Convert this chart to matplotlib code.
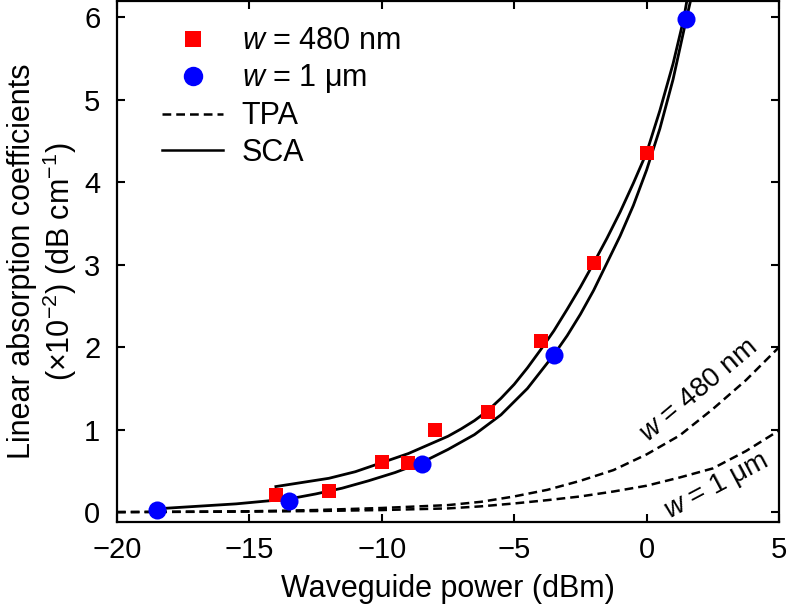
import matplotlib
matplotlib.use("Agg")
import matplotlib.pyplot as plt
from matplotlib.lines import Line2D

plt.rcParams['font.family'] = ['Liberation Sans', 'DejaVu Sans']
plt.rcParams['mathtext.fontset'] = 'custom'
plt.rcParams['mathtext.it'] = 'Liberation Sans:italic'
plt.rcParams['mathtext.rm'] = 'Liberation Sans'

# Measured data
x_480 = [-14, -12, -10, -9, -8, -6, -4, -2, 0]
y_480 = [0.21, 0.26, 0.61, 0.59, 0.99, 1.22, 2.07, 3.02, 4.36]
x_1um = [-18.5, -13.5, -8.5, -3.5, 1.5]
y_1um = [0.03, 0.13, 0.58, 1.91, 5.98]

# SCA model curves
x_sca_480 = [-14, -13, -12, -11, -10, -9, -8, -7.5, -7, -6.5, -6, -5.5, -5, -4.5, -4, -3.5, -3, -2.5, -2,
             -1.5, -1, -0.5, 0, 0.5, 1.0, 1.4, 1.6]
y_sca_480 = [0.31, 0.36, 0.41, 0.49, 0.60, 0.71, 0.85, 0.92, 1.01, 1.11, 1.23, 1.38, 1.55, 1.75, 1.97, 2.20, 2.46, 2.73, 3.02,
             3.32, 3.64, 3.99, 4.36, 4.87, 5.44, 5.98, 6.35]
x_sca_1um = [-18.5, -17.5, -16.5, -15.5, -14.5, -13.5, -12.5, -11.5, -10.5, -9.5, -8.5, -7.5, -6.5,
             -5.5, -4.5, -3.5, -3, -2.5, -2, -1.5, -1, -0.5, 0, 0.5, 1.0, 1.5, 1.8]
y_sca_1um = [0.04, 0.06, 0.08, 0.10, 0.13, 0.16, 0.22, 0.29, 0.38, 0.48, 0.60, 0.76, 0.94,
             1.18, 1.50, 1.91, 2.14, 2.40, 2.69, 3.02, 3.35, 3.72, 4.15, 4.65, 5.25, 5.98, 6.40]

# TPA model curves
x_tpa = [-20, -17.5, -15, -12.5, -10, -7.5, -6.25, -5, -3.75, -2.5, -1.25, 0, 1.25, 2.5, 3.75, 5]
y_tpa_480 = [0.0, 0.005, 0.01, 0.025, 0.05, 0.085, 0.125, 0.19, 0.27, 0.38, 0.51, 0.70, 0.93, 1.25, 1.60, 2.00]
y_tpa_1um = [0.0, 0.003, 0.006, 0.013, 0.025, 0.045, 0.07, 0.105, 0.145, 0.19, 0.25, 0.32, 0.42, 0.53, 0.74, 0.99]

fs_tick = 21
fs_lab = 22

fig = plt.figure(figsize=(7.88, 6.06), dpi=100)
ax = fig.add_axes([117/788, 84/606, 662/788, 521/606])

dash = (0, (3.5, 2))
ax.plot(x_tpa, y_tpa_480, color='black', lw=1.8, linestyle=dash)
ax.plot(x_tpa, y_tpa_1um, color='black', lw=1.8, linestyle=dash)
ax.plot(x_sca_480, y_sca_480, color='black', lw=2.0)
ax.plot(x_sca_1um, y_sca_1um, color='black', lw=2.0)

ax.plot(x_480, y_480, linestyle='none', marker='s', color='#ff0000', markersize=10.5, markeredgewidth=0)
ax.plot(x_1um, y_1um, linestyle='none', marker='o', color='#0000ff', markersize=13, markeredgewidth=0)

ax.set_xlim(-20, 5)
ax.set_ylim(-0.12, 6.2)
ax.set_xticks([-20, -15, -10, -5, 0, 5])
ax.set_yticks([0, 1, 2, 3, 4, 5, 6])
ax.tick_params(direction='in', top=True, right=True, length=6, width=1.5, labelsize=fs_tick)
ax.tick_params(axis='x', pad=10)
ax.tick_params(axis='y', pad=12)
for s in ax.spines.values():
    s.set_linewidth(1.6)

ax.set_xlabel('Waveguide power (dBm)', fontsize=fs_lab, labelpad=7)
ax.set_ylabel('Linear absorption coefficients\n(×10$^{\\mathrm{−2}}$) (dB cm$^{\\mathrm{−1}}$)',
              fontsize=fs_lab, labelpad=4, linespacing=1.1)

ax.text(1.95, 1.47, '$w$ = 480 nm', rotation=40, fontsize=20, ha='center', va='center', rotation_mode='anchor')
ax.text(2.65, 0.31, '$w$ = 1 μm', rotation=28, fontsize=20, ha='center', va='center', rotation_mode='anchor')

handles = [
    Line2D([], [], linestyle='none', marker='s', color='#ff0000', markersize=11, markeredgewidth=0),
    Line2D([], [], linestyle='none', marker='o', color='#0000ff', markersize=14, markeredgewidth=0),
    Line2D([], [], color='black', lw=1.8, linestyle=dash),
    Line2D([], [], color='black', lw=1.8),
]
labels = ['$w$ = 480 nm', '$w$ = 1 μm', 'TPA', 'SCA']
ax.legend(handles, labels, loc='upper left', bbox_to_anchor=(0.05, 0.975), frameon=False,
          fontsize=fs_lab, handlelength=2.0, handletextpad=0.6, labelspacing=0.2, borderaxespad=0)

fig.savefig('out.png', dpi=100)
